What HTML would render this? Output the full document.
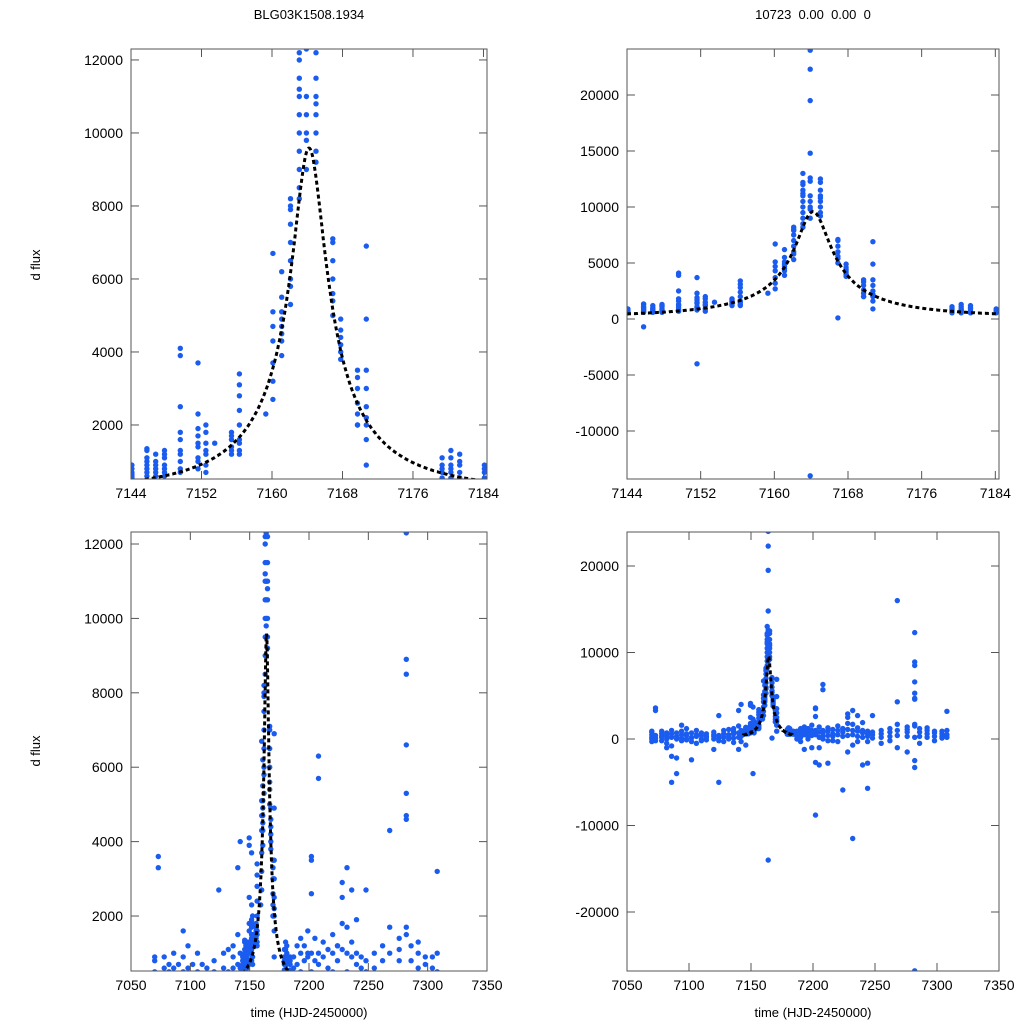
<!DOCTYPE html>
<html><head><meta charset="utf-8"><style>
html,body{margin:0;padding:0;background:#fff;width:1024px;height:1024px;overflow:hidden;}
svg{display:block;font-family:"Liberation Sans",sans-serif;}
</style></head><body>
<svg id="chart" width="1024" height="1024" viewBox="0 0 1024 1024" overflow="hidden">
<text x="309" y="19" font-size="13" text-anchor="middle">BLG03K1508.1934</text>
<text x="813" y="19" font-size="13" text-anchor="middle" xml:space="preserve">10723  0.00  0.00  0</text>
<text x="40" y="265" font-size="13" text-anchor="middle" transform="rotate(-90 40 265)">d flux</text>
<text x="40" y="751" font-size="13" text-anchor="middle" transform="rotate(-90 40 751)">d flux</text>
<text x="309" y="1017" font-size="13" text-anchor="middle">time (HJD-2450000)</text>
<text x="813" y="1017" font-size="13" text-anchor="middle">time (HJD-2450000)</text>
</svg>
<script>
// nightly observations: [time, [flux values]]
const nights = [
[7144.1,[600,700,800,650,900,550]],
[7145.8,[600,800,1000,1100,1300,1350,900,700,-700]],
[7146.8,[600,800,1000,1200,900,700]],
[7147.8,[600,900,1100,1300,1200,800,700]],
[7149.6,[700,1000,1300,1600,2500,1800,1200,4100,3900,800]],
[7151.6,[800,1100,1400,1700,1900,2300,1500,1000,3700,-4000]],
[7152.5,[900,1200,1500,1800,2000,1300,700]],
[7153.5,[1500]],
[7155.4,[1200,1400,1600,1800,1700,1300]],
[7156.3,[1200,1600,2000,2400,2800,3400,3100,1500,1300]],
[7159.3,[2300]],
[7160.1,[3200,3700,4300,4700,5100,6700,2700]],
[7161.1,[3900,4300,4700,5100,5500,4900,4500,6200]],
[7162.1,[5800,6500,7000,7500,8000,8200,6000,5300,7900]],
[7163.1,[8500,9000,9500,10000,10500,11000,11500,12000,12200,13000,8200,11200]],
[7163.9,[9000,10000,10500,11000,12300,12600,14800,19500,22300,24000,-14000,9800]],
[7165.0,[9200,10000,10500,10800,11000,11500,12200,12500,9500]],
[7166.9,[5600,6000,6500,7000,7100,5400,5000,100]],
[7167.8,[3800,4000,4200,4400,4600,4900]],
[7169.7,[2000,2300,2600,3000,3300,3500,2000]],
[7170.7,[1600,2000,2200,2500,3000,3500,6900,4900,900]],
[7179.3,[550,700,900,1100,800]],
[7180.3,[550,700,900,1100,1300,800]],
[7181.3,[550,700,900,1000,1200]],
[7184.1,[550,700,800,900]],
[7070,[200,500,-300,800,0,900]],[7073,[100,400,3300,3600,-200]],[7078,[300,600,-200,900,200]],
[7082,[0,500,300,-500,700,-1000]],[7086,[200,-800,600,1000,-2000,-5000]],[7090,[300,700,0,-2200,-4000]],
[7094,[100,500,1600,-200,900]],[7098,[400,0,600,-100,1200]],[7102,[200,700,-300,100,-2400]],
[7106,[300,500,-500,1000]],[7110,[0,400,700,-200]],[7114,[200,600,-100,300]],
[7120,[300,0,500,800,-1200]],[7124,[100,400,2700,-5000,-200]],[7128,[200,600,-300,1000]],
[7132,[300,0,500,1100]],[7136,[100,600,900,-400,1200]],[7140,[200,700,1500,-1200,3300]],
[7142,[300,600,1000,-300,4000]],
[7187,[300,600,900,0,400]],[7190,[200,700,1200,-300]],[7193,[500,1000,1400,-1200]],
[7196,[300,800,1200,0]],[7199,[400,900,1600,-1000,1000]],[7202,[500,1000,3600,3500,-8800,-2700,2600]],
[7205,[200,800,1400,-1000,-3000]],[7208,[300,700,1000,0,6300,5700]],[7212,[400,900,1300,-200,-2800]],
[7216,[300,600,-200,1100]],[7220,[500,1000,1500,-300]],[7224,[300,800,1200,-5900,1200]],
[7228,[400,1100,2900,2500,1800,-1500]],[7232,[500,1000,1700,-700,3300,-11500]],[7236,[300,900,1300,-300,2700]],
[7240,[200,700,1000,-3000,1900]],[7244,[300,600,-300,900,-5700,-2800]],[7248,[100,500,800,2700]],
[7255,[200,600,1000,-500]],[7262,[300,800,1200,-200]],[7268,[400,1000,1700,-1000,16000,4300]],
[7276,[300,800,1400,-1500,1100]],[7282,[200,1700,4600,4700,5300,6600,8500,8900,12300,-2500,-3300,-26800,1500]],
[7286,[300,800,1200,-500]],[7292,[200,600,1000,1300]],[7298,[300,700,-200,900]],
[7304,[100,600,900,300]],[7308,[200,500,1000,3200]]
];
// model parameters
const t0 = 7164.2, tE = 16, u0 = 0.12, Fs = 1272, Fb = 200;
const modelRange = [7144, 7185];
const xTicksTop = [7144,7152,7160,7168,7176,7184];
const xTicksBot = [7050,7100,7150,7200,7250,7300,7350];
const yTicksA = [2000,4000,6000,8000,10000,12000];
const yTicksB = [-10000,-5000,0,5000,10000,15000,20000];
const yTicksD = [-20000,-10000,0,10000,20000];

const NS = "http://www.w3.org/2000/svg";
const svg = document.getElementById('chart');
function el(tag, attrs, parent){const e=document.createElementNS(NS,tag);for(const k in attrs)e.setAttribute(k,attrs[k]);(parent||svg).appendChild(e);return e;}

const panels = [
 {id:'top-left', L:131,R:487,T:49,B:479, x0:7144,x1:7184.4, y0:520,y1:12300, xt:xTicksTop, yt:yTicksA},
 {id:'top-right', L:627,R:999,T:49,B:479, x0:7144,x1:7184.4, y0:-14286,y1:24107, xt:xTicksTop, yt:yTicksB},
 {id:'bottom-left', L:131,R:487,T:532,B:971, x0:7050,x1:7350, y0:522,y1:12323, xt:xTicksBot, yt:yTicksA},
 {id:'bottom-right', L:627,R:999,T:532,B:971, x0:7050,x1:7350, y0:-26820,y1:23930, xt:xTicksBot, yt:yTicksD}
];
function model(t){const tau=(t-t0)/tE;const u=Math.sqrt(u0*u0+tau*tau);const A=(u*u+2)/(u*Math.sqrt(u*u+4));return Fb+Fs*(A-1);}

panels.forEach((p,i)=>{
 const sx=v=>p.L+(v-p.x0)/(p.x1-p.x0)*(p.R-p.L);
 const sy=v=>p.B-(v-p.y0)/(p.y1-p.y0)*(p.B-p.T);
 const g=el('g',{});
 
 
 const cid='clip'+i;
 const cp=el('clipPath',{id:cid},g);el('rect',{x:p.L,y:p.T,width:p.R-p.L,height:p.B-p.T},cp);
 const pts=el('g',{'clip-path':'url(#'+cid+')',fill:'#1a5cf0'},g);
 
 
 nights.forEach(n=>{n[1].forEach(v=>{
   const x=sx(n[0]), y=sy(v);
   if(x<p.L-3||x>p.R+3||y<p.T-3||y>p.B+3) return;
   const c=el('circle',{cx:x.toFixed(1),cy:y.toFixed(1),r:2.7},pts);
   
   
 });});
 const a=Math.max(p.x0,modelRange[0]), b=Math.min(p.x1,modelRange[1]);
 let d='';const N=600;
 for(let k=0;k<=N;k++){const t=a+(b-a)*k/N;const y=Math.min(p.B+2,Math.max(p.T-2,sy(model(t))));d+=(k?'L':'M')+sx(t).toFixed(1)+','+y.toFixed(1);}
 const m=el('path',{d:d,fill:'none',stroke:'#000','stroke-width':3,'stroke-dasharray':'4,3','clip-path':'url(#'+cid+')'},g);
 
 
 const f=el('rect',{x:p.L,y:p.T,width:p.R-p.L,height:p.B-p.T,fill:'none',stroke:'#555','stroke-width':1},g);
 
 
 p.xt.forEach(v=>{const x=sx(v);
   el('line',{x1:x,x2:x,y1:p.B,y2:p.B-8,stroke:'#555'},g);
   el('line',{x1:x,x2:x,y1:p.T,y2:p.T+8,stroke:'#555'},g);
   const t=el('text',{x:x,y:p.B+19,'font-size':14,'text-anchor':'middle'},g);t.textContent=v;
   
   
 });
 p.yt.forEach(v=>{const y=sy(v);
   el('line',{x1:p.L,x2:p.L+8,y1:y,y2:y,stroke:'#555'},g);
   el('line',{x1:p.R,x2:p.R-8,y1:y,y2:y,stroke:'#555'},g);
   const t=el('text',{x:p.L-8,y:y+5,'font-size':14,'text-anchor':'end'},g);t.textContent=v;
   
   
 });
});
</script>
</body></html>
